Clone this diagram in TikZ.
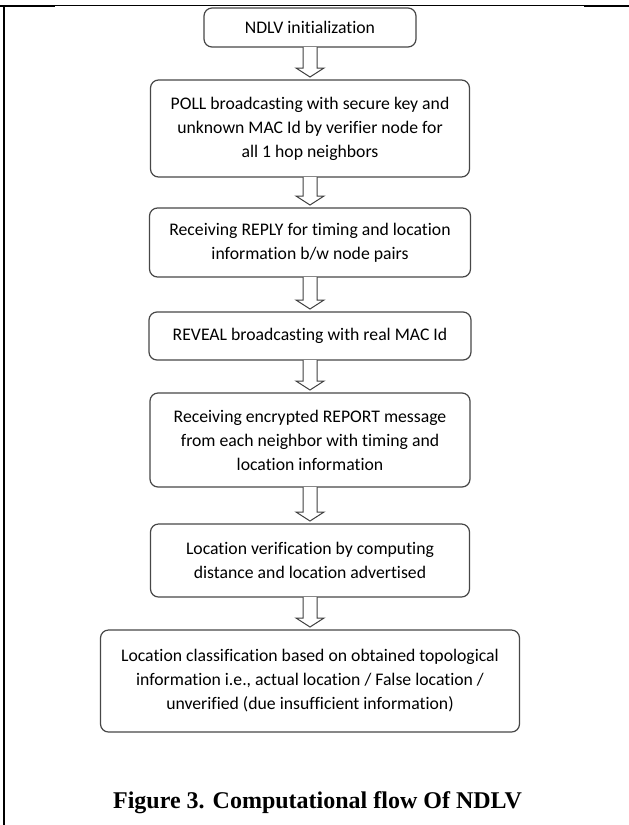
\documentclass[tikz,border=0pt]{standalone}
\usepackage{fontspec}
\setmainfont{Carlito}[Ligatures=NoCommon]
\newfontfamily\capfont{Liberation Serif}
\usepackage{tikz}
\usetikzlibrary{positioning,calc}
\tikzset{
  fcbox/.style={draw=black!72,line width=1.2bp,rounded corners=8bp,align=center,
    inner sep=2bp,outer sep=0pt,font=\fontsize{17.7bp}{24bp}\selectfont},
  fcarrow/.style={draw=black!75,line width=1bp,fill=white,line join=miter},
  fcframe/.style={line width=2.5bp},
}
\newcommand{\flowarrow}[2]{%
  \draw[fcarrow] ($(#1.south)+(-7bp,0)$) -- ($(#2.north)+(-7bp,12bp)$)
    -- ++(-7bp,0) -- ($(#2.north)+(0,3bp)$) -- ($(#2.north)+(14bp,12bp)$)
    -- ++(-7bp,0) -- ($(#1.south)+(7bp,0)$);}

\begin{document}
\begin{tikzpicture}[x=1bp,y=1bp,node distance=33bp]
\useasboundingbox (0,0) rectangle (629,-825);
% page frame
\draw[line width=1bp] (0,-5.5) -- (629,-5.5);
\draw[fcframe] (0,-6.2) -- (55,-6.2) (584,-6.2) -- (629,-6.2);
\draw[fcframe] (4,-5) -- (4,-825);
% steps
\node[fcbox,minimum width=212bp,minimum height=39bp] (init) at (310,-27.5) {NDLV initialization};
\node[fcbox,minimum width=319bp,minimum height=97bp,below=33bp of init] (poll)
  {POLL broadcasting with secure key and\\unknown MAC Id by verifier node for\\all 1 hop neighbors};
\node[fcbox,minimum width=321bp,minimum height=69bp,below=31bp of poll] (reply)
  {Receiving REPLY for timing and location\\information b/w node pairs};
\node[fcbox,minimum width=322bp,minimum height=48bp,below=35bp of reply] (reveal)
  {REVEAL broadcasting with real MAC Id};
\node[fcbox,minimum width=320bp,minimum height=94bp,below=33bp of reveal] (report)
  {Receiving encrypted REPORT message\\from each neighbor with timing and\\location information};
\node[fcbox,minimum width=319bp,minimum height=73bp,below=37bp of report] (verif)
  {Location verification by computing\\distance and location advertised};
\node[fcbox,minimum width=419bp,minimum height=102bp,below=33bp of verif] (classif)
  {Location classification based on obtained topological\\information i.e., actual location / False location /\\unverified (due insufficient information)};
% arrows
\flowarrow{init}{poll}
\flowarrow{poll}{reply}
\flowarrow{reply}{reveal}
\flowarrow{reveal}{report}
\flowarrow{report}{verif}
\flowarrow{verif}{classif}
\node[font=\capfont\bfseries\fontsize{24bp}{28bp}\selectfont,anchor=base] (cap) at (317.5,-808)
  {Figure 3. Computational flow Of NDLV};
\end{tikzpicture}
\end{document}
